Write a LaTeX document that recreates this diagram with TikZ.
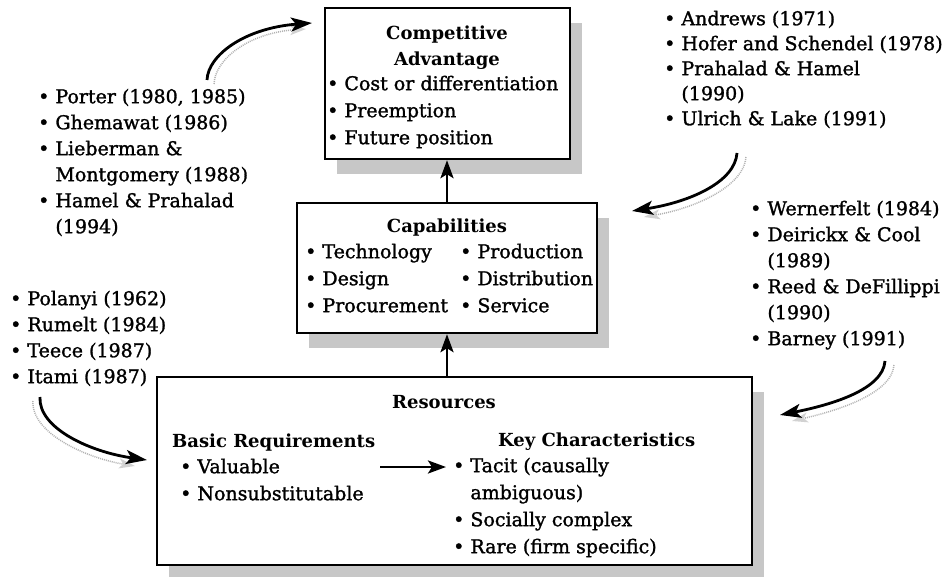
\documentclass[tikz,border=0pt]{standalone}
\usepackage{fontspec}
\setmainfont{DejaVu Serif}[UprightFeatures={FakeBold=1.4}]
\usetikzlibrary{arrows.meta,shadows}
\newcommand\fsz{\fontsize{19}{26}\selectfont}
\newcommand\fszw{\fontsize{19}{27}\selectfont}
\newcommand\fszb{\fontsize{18}{26}\selectfont\bfseries}
\newcommand\stt{\rule{0pt}{15pt}}
\newcommand\bl{\textbullet\ }
\newcommand\ind{\phantom{\textbullet\ }}
\begin{document}
\begin{tikzpicture}[x=1pt,y=-1pt,
  box/.style={draw, line width=2.4pt, fill=white, inner sep=0pt,
     drop shadow={shadow xshift=12pt, shadow yshift=-15pt, fill=black!22, opacity=1}},
  txt/.style={inner sep=0pt, anchor=north west, align=left, font=\fsz},
  wtxt/.style={inner sep=0pt, anchor=north west, align=left, font=\fszw},
  btxt/.style={inner sep=0pt, anchor=north west, align=left, font=\fszb},
  ttl/.style={inner sep=0pt, anchor=north, align=center, font=\fszb},
  arr/.style={line width=2.8pt, -{Stealth[length=18pt,width=13pt,inset=4pt]}},
  carr/.style={line width=2.8pt, -{Stealth[length=21pt,width=14pt,inset=5pt]}},
  cshadow/.style={gray!60, line width=1.5pt, dash pattern=on 1pt off 1pt,
     -{Stealth[length=16pt,width=10pt,inset=4pt,color=gray!35,fill=gray!35]}},
]
\useasboundingbox (0,0) rectangle (945,577);

% boxes
\node[box, minimum width=245pt, minimum height=151pt] (ca) at (447.5,83.5) {};
\node[box, minimum width=300pt, minimum height=130pt] (cap) at (447,268) {};
\node[box, minimum width=595pt, minimum height=188pt] (res) at (454.5,471) {};

% competitive advantage
\node[ttl] (catitle) at (447,24) {\stt Competitive\\Advantage};
\node[wtxt] (calist) at (327,75) {\stt\bl Cost or differentiation\\\bl Preemption\\\bl Future position};

% capabilities
\node[ttl] (captitle) at (447,217) {\stt Capabilities};
\node[wtxt] (capl) at (305,243) {\stt\bl Technology\\\bl Design\\\bl Procurement};
\node[wtxt] (capr) at (460,243) {\stt\bl Production\\\bl Distribution\\\bl Service};

% resources
\node[ttl] (restitle) at (444,393) {\stt Resources};
\node[btxt] (basic) at (172,432) {\stt Basic Requirements};
\node[wtxt] (basiclist) at (180,458) {\stt\bl Valuable\\\bl Nonsubstitutable};
\node[btxt] (key) at (498,431) {\stt Key Characteristics};
\node[wtxt] (keylist) at (453,457) {\stt\bl Tacit (causally\\\ind ambiguous)\\\bl Socially complex\\\bl Rare (firm specific)};

% literature lists
\node[txt] (porter) at (38,88) {\stt\bl Porter (1980, 1985)\\\bl Ghemawat (1986)\\\bl Lieberman \&\\\ind Montgomery (1988)\\\bl Hamel \& Prahalad\\\ind (1994)};
\node[txt, font=\fontsize{19}{25}\selectfont] (andrews) at (664,10) {\stt\bl Andrews (1971)\\\bl Hofer and Schendel (1978)\\\bl Prahalad \& Hamel\\\ind (1990)\\\bl Ulrich \& Lake (1991)};
\node[txt] (wernerfelt) at (750,200) {\stt\bl Wernerfelt (1984)\\\bl Deirickx \& Cool\\\ind (1989)\\\bl Reed \& DeFillippi\\\ind (1990)\\\bl Barney (1991)};
\node[txt] (polanyi) at (10,290) {\stt\bl Polanyi (1962)\\\bl Rumelt (1984)\\\bl Teece (1987)\\\bl Itami (1987)};

% straight arrows
\draw[arr] (cap.north) -- (cap.north |- ca.south);
\draw[arr] (res.north -| cap.south) -- (cap.south);
\coordinate (ia) at (380,467);
\coordinate (ib) at (446,467);
\draw[arr] (ia) -- (ib);

% curved arrows
\coordinate (s1) at (207,80);  \coordinate (e1) at (312,23);
\coordinate (s2) at (737,153); \coordinate (e2) at (632,211);
\coordinate (s3) at (885,361); \coordinate (e3) at (780,415);
\coordinate (s4) at (40,397);  \coordinate (e4) at (147,460);

\draw[cshadow] ([shift={(7,4)}]s1) .. controls ([shift={(7,4)}]208,55) and ([shift={(4,5)}]245,28) .. ([shift={(-6,6)}]e1);
\draw[carr] (s1) .. controls (208,55) and (245,28) .. (e1);

\draw[cshadow] ([shift={(9,4)}]s2) .. controls ([shift={(9,4)}]735,182) and ([shift={(6,6)}]690,202) .. ([shift={(12,6)}]e2);
\draw[carr] (s2) .. controls (735,182) and (690,202) .. (e2);

\draw[cshadow] ([shift={(9,4)}]s3) .. controls ([shift={(9,4)}]883,390) and ([shift={(6,6)}]830,405) .. ([shift={(12,6)}]e3);
\draw[carr] (s3) .. controls (883,390) and (830,405) .. (e3);

\draw[cshadow] ([shift={(-7,4)}]s4) .. controls ([shift={(-7,5)}]38,428) and ([shift={(-4,6)}]90,452) .. ([shift={(-12,6)}]e4);
\draw[carr] (s4) .. controls (38,428) and (90,452) .. (e4);
\end{tikzpicture}
\end{document}
